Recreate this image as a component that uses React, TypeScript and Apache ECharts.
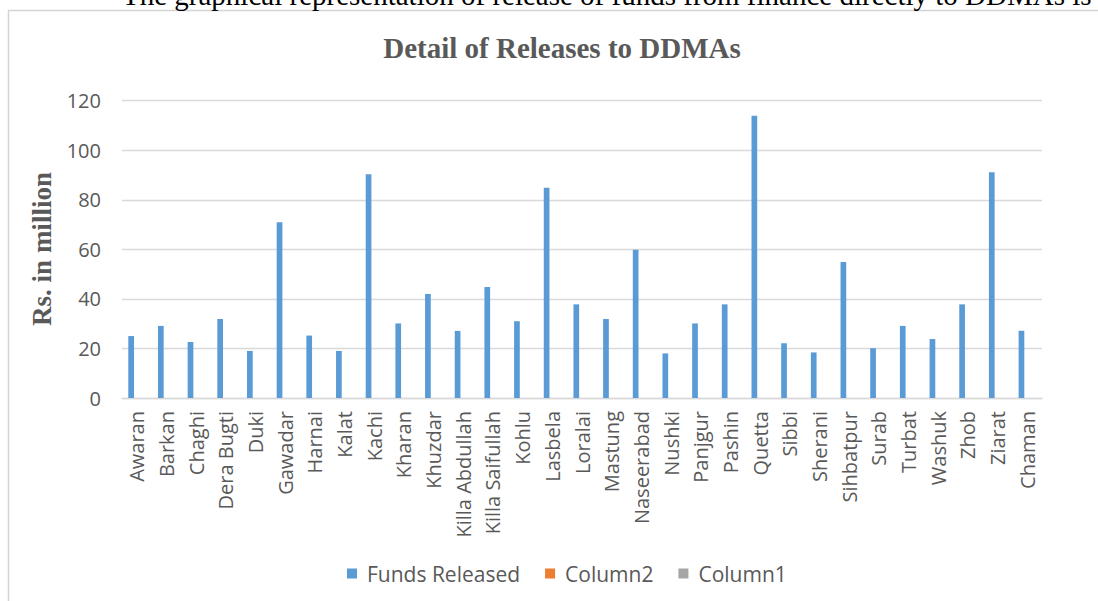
import React, { useEffect, useRef } from "react";
import * as echarts from "echarts";

// Districts and the funds released to each DDMA (Rs. in million)
const districts: string[] = [
  "Awaran", "Barkan", "Chaghi", "Dera Bugti", "Duki", "Gawadar", "Harnai",
  "Kalat", "Kachi", "Kharan", "Khuzdar", "Killa Abdullah", "Killa Saifullah",
  "Kohlu", "Lasbela", "Loralai", "Mastung", "Naseerabad", "Nushki", "Panjgur",
  "Pashin", "Quetta", "Sibbi", "Sherani", "Sihbatpur", "Surab", "Turbat",
  "Washuk", "Zhob", "Ziarat", "Chaman",
];

const fundsReleased: number[] = [
  25, 29.1, 22.6, 31.9, 19, 70.9, 25.2,
  19, 90.3, 30.1, 42, 27.1, 44.8,
  31, 84.9, 37.8, 31.9, 59.8, 18, 30.1,
  37.8, 113.9, 22.1, 18.4, 54.9, 20.1, 29.1,
  23.8, 37.8, 91.1, 27.1,
];

// Two empty columns that only appear in the legend
const column2: number[] = [];
const column1: number[] = [];

const yTicks = { min: 0, max: 120, interval: 20 };

const seriesNames = ["Funds Released", "Column2", "Column1"];
const seriesColors = ["#5B9BD5", "#ED7D31", "#A5A5A5"];

const SANS = "'Open Sans', sans-serif";
const SERIF = "'Liberation Serif', 'Times New Roman', serif";
const GREY = "#595959";

export default function App() {
  const ref = useRef<HTMLDivElement>(null);

  useEffect(() => {
    if (!ref.current) return;
    const chart = echarts.init(ref.current, undefined, { renderer: "svg" });

    const seriesData = [fundsReleased, column2, column1];

    chart.setOption({
      animation: false,
      backgroundColor: "#ffffff",
      grid: { left: 122, top: 100.7, width: 920, height: 297.3, containLabel: false },
      legend: {
        data: seriesNames,
        left: 342,
        top: 558,
        icon: "rect",
        itemWidth: 10,
        itemHeight: 10,
        itemGap: 25,
        textStyle: { fontFamily: SANS, fontSize: 21, color: GREY, padding: [0, 0, 0, 5] },
      },
      xAxis: {
        type: "category",
        data: districts,
        axisLine: { show: true, lineStyle: { color: "#D9D9D9", width: 1.3 } },
        axisTick: { show: false },
        axisLabel: {
          rotate: 90,
          interval: 0,
          margin: 13,
          fontFamily: SANS,
          fontSize: 20,
          color: GREY,
        },
      },
      yAxis: {
        type: "value",
        min: yTicks.min,
        max: yTicks.max,
        interval: yTicks.interval,
        axisLine: { show: false },
        axisTick: { show: false },
        splitLine: { lineStyle: { color: "#D9D9D9", width: 1.3 } },
        axisLabel: { margin: 21, fontFamily: SANS, fontSize: 20, color: GREY },
      },
      series: seriesNames.map((name, i) => ({
        name,
        type: "bar",
        data: seriesData[i],
        barWidth: 5.7,
        barGap: "0%",
        itemStyle: { color: seriesColors[i] },
      })),
      graphic: [
        {
          type: "rect",
          shape: { x: 8.5, y: 10.5, width: 1200, height: 700 },
          style: { fill: "none", stroke: "#D4D4D4", lineWidth: 1.5 },
          silent: true,
        },
        {
          type: "text",
          x: 122,
          y: -5,
          style: {
            text: "The graphical representation of release of funds from finance directly to DDMAs is",
            fontFamily: SERIF,
            fontSize: 29,
            fill: "#000000",
            align: "left",
            verticalAlign: "middle",
          },
          silent: true,
        },
        {
          type: "text",
          x: 562,
          y: 48,
          style: {
            text: "Detail of Releases to DDMAs",
            fontFamily: SERIF,
            fontWeight: "bold",
            fontSize: 29,
            fill: GREY,
            align: "center",
            verticalAlign: "middle",
          },
          silent: true,
        },
        {
          type: "text",
          x: 42,
          y: 249,
          rotation: Math.PI / 2,
          style: {
            text: "Rs. in million",
            fontFamily: SERIF,
            fontWeight: "bold",
            fontSize: 27,
            fill: GREY,
            align: "center",
            verticalAlign: "middle",
          },
          silent: true,
        },
      ],
    });

    return () => chart.dispose();
  }, []);

  return (
    <div
      ref={ref}
      style={{ position: "absolute", left: 0, top: 0, width: 1098, height: 601 }}
    />
  );
}
